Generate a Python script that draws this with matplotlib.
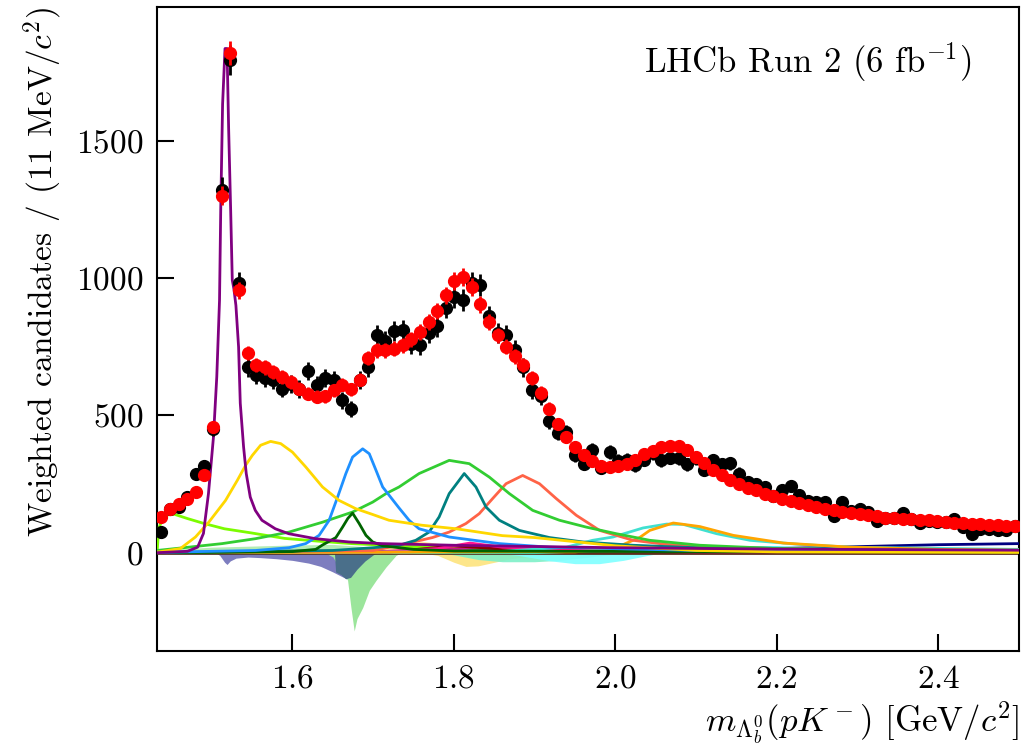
import numpy as np
import matplotlib
matplotlib.use("Agg")
import matplotlib.pyplot as plt

plt.rcParams['font.family'] = 'serif'
plt.rcParams['font.serif'] = ['cmr10']
plt.rcParams['mathtext.fontset'] = 'cm'
plt.rcParams['axes.formatter.use_mathtext'] = True

# binning: 100 bins between pK threshold and 2.5 GeV
x_lo, x_hi, n_bins = 1.4323, 2.5, 100

data_vals = [75, 158, 166, 202, 285, 314, 451, 1320, 1792, 980,
             674, 646, 634, 627, 597, 615, 595, 661, 612, 636,
             627, 555, 524, 630, 675, 793, 772, 808, 809, 760,
             757, 801, 824, 892, 931, 919, 982, 973, 861, 800,
             791, 737, 674, 591, 569, 479, 436, 438, 354, 324,
             373, 310, 366, 334, 339, 318, 339, 362, 336, 346,
             344, 322, 345, 301, 337, 323, 325, 288, 257, 250,
             239, 205, 227, 242, 211, 188, 184, 183, 132, 183,
             150, 159, 149, 116, 126, 125, 143, 122, 108, 116,
             111, 110, 122, 92, 67, 86, 86, 83, 81, 96]

fit_vals = [130, 160, 177, 197, 222, 281, 458, 1300, 1818, 955,
            727, 682, 674, 658, 640, 621, 597, 579, 567, 569,
            591, 612, 594, 630, 708, 737, 737, 743, 755, 776,
            803, 840, 880, 937, 989, 1004, 967, 904, 840, 791,
            749, 715, 682, 637, 581, 524, 470, 421, 385, 354,
            332, 314, 312, 314, 324, 339, 358, 370, 385, 388,
            387, 373, 348, 326, 302, 284, 266, 251, 237, 227,
            215, 206, 197, 188, 180, 172, 166, 160, 154, 148,
            146, 139, 136, 132, 127, 126, 124, 121, 118, 118,
            115, 111, 109, 107, 106, 103, 102, 99, 97, 97]

# fit components (mass in GeV, weighted candidates)
purple_x = [1.4323, 1.470, 1.4826, 1.4898, 1.4960, 1.5022, 1.5063, 1.5097, 1.5112, 1.5135,
            1.5165, 1.5190, 1.5210, 1.5235, 1.5255, 1.5275, 1.5300, 1.5333, 1.5354, 1.5395,
            1.5428, 1.5478, 1.5540, 1.5622, 1.5788, 1.5954, 1.6285, 1.6699, 1.7108, 1.80,
            2.00, 2.20, 2.50]
purple_y = [0, 5, 20, 70, 215, 421, 640, 919, 1250, 1632,
            1835, 1835, 1543, 1247, 992, 960, 900, 749, 544, 385,
            288, 202, 154, 118, 87, 69, 51, 39, 33, 27,
            18, 13, 9]

gold_x = [1.4323, 1.4612, 1.4799, 1.4964, 1.5171, 1.5317, 1.5420, 1.5503, 1.5606, 1.5730,
          1.5855, 1.6000, 1.6165, 1.6373, 1.6579, 1.6786, 1.6994, 1.7196, 1.76, 1.8029, 1.86,
          1.90, 2.00, 2.10, 2.20, 2.50]
gold_y = [2, 15, 57, 111, 190, 263, 318, 354, 391, 405,
          397, 366, 312, 239, 190, 160, 139, 118, 100, 87, 62,
          55, 25, 8, 3, 1]

lime_x = [1.4323, 1.4345, 1.4412, 1.4536, 1.4702, 1.4908, 1.5157, 1.5489, 1.5902, 1.6316,
          1.6730, 1.75, 1.85, 2.00, 2.50]
lime_y = [0, 90, 136, 140, 124, 106, 87, 72, 52, 42,
          33, 22, 12, 5, 1]

blue_x = [1.4323, 1.5544, 1.5958, 1.6165, 1.6330, 1.6455, 1.6559, 1.6662, 1.6745, 1.6870,
          1.6952, 1.7035, 1.7118, 1.7320, 1.7445, 1.7569, 1.7942, 1.8563, 1.9184, 2.10, 2.50]
blue_y = [1, 8, 18, 33, 63, 118, 202, 288, 348, 378,
          360, 300, 239, 163, 118, 87, 57, 33, 20, 8, 3]

dkgreen_x = [1.4323, 1.50, 1.60, 1.6289, 1.6373, 1.6538, 1.6621, 1.6687, 1.6745, 1.6827,
             1.6911, 1.6994, 1.7118, 1.75, 1.80, 2.50]
dkgreen_y = [0, 1, 4, 12, 28, 55, 93, 125, 144, 106,
             63, 39, 25, 12, 6, 1]

green_x = [1.4323, 1.4716, 1.5130, 1.5544, 1.5958, 1.6373, 1.6745, 1.6994, 1.7159, 1.7320,
           1.7569, 1.7942, 1.8190, 1.8439, 1.8687, 1.8976, 1.9308, 1.9640, 2.0012, 2.0426,
           2.1047, 2.20, 2.35, 2.50]
green_y = [8, 20, 33, 51, 75, 111, 148, 184, 215, 239,
           288, 336, 324, 275, 215, 154, 118, 93, 69, 45,
           27, 15, 8, 5]

teal_x = [1.4323, 1.65, 1.70, 1.7320, 1.7528, 1.7693, 1.7817, 1.7942, 1.8128, 1.8273,
          1.8398, 1.8563, 1.8811, 1.9184, 1.9598, 2.0215, 2.10, 2.30, 2.50]
teal_y = [0, 8, 18, 27, 45, 75, 130, 215, 288, 239,
          166, 118, 81, 55, 39, 27, 18, 10, 7]

tomato_x = [1.4323, 1.70, 1.7320, 1.7734, 1.7942, 1.8149, 1.8314, 1.8480, 1.8646, 1.8852,
            1.9060, 1.9267, 1.9516, 1.9805, 2.0219, 2.0634, 2.15, 2.30, 2.50]
tomato_y = [0, 8, 27, 55, 75, 106, 142, 197, 251, 281,
            251, 197, 136, 81, 45, 30, 18, 10, 6]

turq_x = [1.4323, 1.85, 1.9391, 1.9718, 1.9970, 2.0343, 2.0634, 2.0840, 2.1255, 2.1668,
          2.2290, 2.2911, 2.4153, 2.50]
turq_y = [0, 3, 20, 45, 57, 90, 104, 103, 69, 45,
          30, 20, 15, 12]

orange_x = [1.4323, 1.95, 1.99, 2.01, 2.03, 2.0426, 2.0717, 2.1047, 2.1461, 2.2082,
            2.2911, 2.40, 2.50]
orange_y = [0, 3, 12, 30, 55, 81, 108, 95, 63, 35,
            20, 12, 9]

navy_x = [1.4323, 1.60, 1.80, 2.00, 2.20, 2.30, 2.40, 2.50]
navy_y = [0, 3, 6, 10, 15, 22, 29, 33]

pink_x = [1.4323, 1.70, 1.78, 1.82, 1.86, 1.95, 2.10, 2.50]
pink_y = [0, 2, 15, 35, 20, 10, 5, 2]

darkred_x = [1.4323, 1.72, 1.80, 1.85, 1.95, 2.20, 2.50]
darkred_y = [0, 2, 25, 15, 8, 3, 1]

violet_x = [1.4323, 1.75, 1.83, 1.90, 2.10, 2.50]
violet_y = [0, 3, 20, 8, 3, 1]

cyan_x = [1.4323, 1.90, 2.00, 2.10, 2.20, 2.30, 2.50]
cyan_y = [0, 0, 10, 20, 18, 10, 5]

# filled (interference) components
fillgreen_pos_x = [1.4323, 1.44, 1.50, 1.60, 1.65, 1.70, 1.75, 1.80]
fillgreen_pos_y = [0, 10, 20, 28, 30, 20, 5, 0]

fillyellow_pos_x = [1.70, 1.73, 1.76, 1.79, 1.82, 1.85]
fillyellow_pos_y = [0, 30, 42, 30, 10, 0]

slate_x = [1.505, 1.510, 1.516, 1.519, 1.523, 1.530, 1.545, 1.56, 1.58, 1.60,
           1.62, 1.635, 1.65, 1.66, 1.667, 1.675, 1.685, 1.695, 1.705]
slate_y = [0, -10, -35, -43, -30, -20, -16, -18, -22, -28,
           -38, -50, -70, -85, -95, -85, -55, -25, 0]

fillgreen_neg_x = [1.640, 1.650, 1.655, 1.660, 1.6683, 1.6724, 1.6765, 1.680, 1.687, 1.6952,
                   1.7035, 1.7159, 1.7283, 1.735]
fillgreen_neg_y = [0, -15, -40, -60, -100, -198, -285, -240, -200, -137,
                   -101, -52, -10, 0]

dark_x = [1.652, 1.6535, 1.660, 1.666, 1.672, 1.680, 1.690, 1.700, 1.705]
dark_y = [0, -70, -80, -95, -90, -60, -30, -8, 0]

fillyellow_neg_x = [1.76, 1.78, 1.80, 1.815, 1.83, 1.85, 1.87, 1.90, 1.95, 2.00]
fillyellow_neg_y = [0, -10, -35, -50, -48, -35, -22, -12, -5, 0]

aqua_x = [1.78, 1.80, 1.83, 1.86, 1.90, 1.93, 1.97, 2.00, 2.03]
aqua_y = [0, -8, -25, -33, -33, -28, -15, -5, 0]

cyanfill_x = [1.85, 1.88, 1.92, 1.95, 1.98, 2.01, 2.04, 2.06]
cyanfill_y = [0, -10, -30, -40, -40, -28, -10, 0]


edges = np.linspace(x_lo, x_hi, n_bins + 1)
centres = 0.5 * (edges[1:] + edges[:-1])
data_vals = np.array(data_vals, dtype=float)
fit_vals = np.array(fit_vals, dtype=float)

fig = plt.figure(figsize=(10.25, 7.49), dpi=100)
ax = fig.add_axes([0.1532, 0.1308, 0.8410, 0.8598])

ax.fill_between(fillgreen_pos_x, fillgreen_pos_y, 0, color='#b4ecb4', lw=0)
ax.fill_between(fillyellow_pos_x, fillyellow_pos_y, 0, color='#fdeaa0', lw=0)
ax.fill_between(slate_x, slate_y, 0, color='#7d7dbf', lw=0)
ax.fill_between(fillgreen_neg_x, fillgreen_neg_y, 0, color='#9be59b', lw=0)
ax.fill_between(dark_x, dark_y, 0, color='#4a6f8a', lw=0)
ax.fill_between(fillyellow_neg_x, fillyellow_neg_y, 0, color='#fde68a', lw=0)
ax.fill_between(aqua_x, aqua_y, 0, color='#7ff0c8', lw=0, alpha=0.9)
ax.fill_between(cyanfill_x, cyanfill_y, 0, color='#80ffff', lw=0, alpha=0.9)

ax.axhline(0, color='#5c2a1a', lw=2, zorder=2)

lines = [
    (lime_x, lime_y, '#7cfc00'),
    (navy_x, navy_y, '#000080'),
    (cyan_x, cyan_y, '#00e5ee'),
    (violet_x, violet_y, '#c71585'),
    (darkred_x, darkred_y, '#8b0000'),
    (pink_x, pink_y, '#ff1493'),
    (turq_x, turq_y, '#40e0d0'),
    (orange_x, orange_y, '#ffa500'),
    (tomato_x, tomato_y, '#ff6347'),
    (teal_x, teal_y, '#008080'),
    (green_x, green_y, '#32cd32'),
    (dkgreen_x, dkgreen_y, '#006400'),
    (blue_x, blue_y, '#1e90ff'),
    (gold_x, gold_y, '#ffd700'),
    (purple_x, purple_y, '#800080'),
]
for lx, ly, col in lines:
    ax.plot(lx, ly, color=col, lw=2.0, zorder=3)

ax.errorbar(centres, data_vals, yerr=1.3 * np.sqrt(data_vals), fmt='o', color='black',
            ms=8.5, elinewidth=2, capsize=0, zorder=4)
ax.errorbar(centres, fit_vals, yerr=1.0 * np.sqrt(fit_vals), fmt='o', color='red',
            ms=8.5, elinewidth=2, capsize=0, zorder=5)

ax.set_xlim(x_lo, x_hi)
ax.set_ylim(-358, 1986)
ax.set_xticks([1.6, 1.8, 2.0, 2.2, 2.4])
ax.set_yticks([0, 500, 1000, 1500])
ax.tick_params(direction='in', length=12, width=1.5, labelsize=24, pad=10,
               top=False, right=False)
for s in ax.spines.values():
    s.set_linewidth(1.5)

ax.set_ylabel(r'Weighted candidates / (11 MeV/$c^2$)', fontsize=24, loc='top', labelpad=8)
ax.set_xlabel(r'$m_{\Lambda_b^0}(pK^-)$ [GeV/$c^2$]', fontsize=25, loc='right', labelpad=4)
ax.text(0.945, 0.915, r'LHCb Run 2 (6 fb$^{-1}$)', transform=ax.transAxes,
        ha='right', va='center', fontsize=25)

fig.savefig('out.png', dpi=100)
